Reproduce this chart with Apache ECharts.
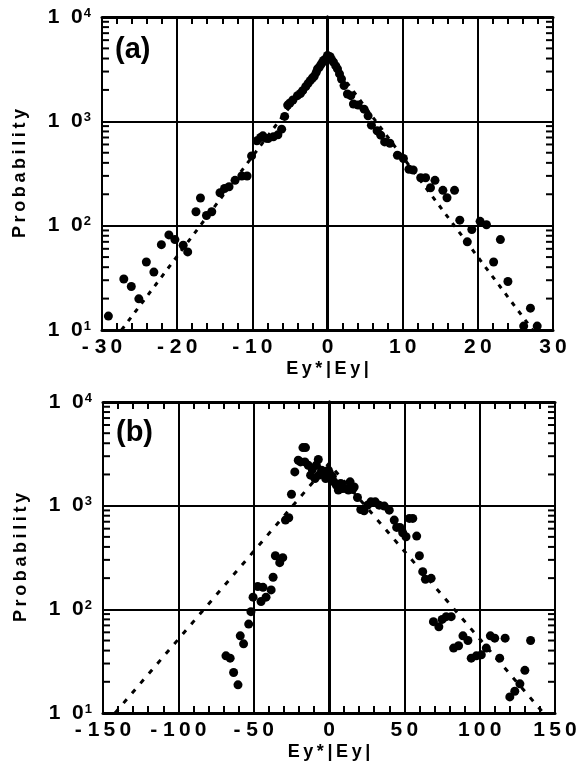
<!DOCTYPE html>
<html><head><meta charset="utf-8">
<script src="https://cdn.jsdelivr.net/npm/echarts@6/dist/echarts.min.js"></script>
<style>html,body{margin:0;padding:0;background:#fff}#c{width:582px;height:778px}</style>
</head><body><div id="c"></div>
<script>
// ---- Panel (a) data ----
const aX = [-29.15,-27.1,-26.1,-25.1,-24.1,-23.1,-22.1,-21.1,-20.3,-19.2,-18.6,-17.5,-16.9,-16.1,-15.4,-14.3,-13.7,-13.1,-12.3,-11.4,-10.7,-10.1,-9.4,-8.9,-8.6,-8.2,-7.9,-7.2,-6.6,-6.1,-5.7,-5.3,-5.0,-4.6,-4.0,-3.6,-3.3,-2.9,-2.6,-2.3,-2.0,-1.77,-1.5,-1.33,-1.1,-0.88,-0.7,-0.53,-0.3,0,0.15,0.35,0.55,0.8,1.1,1.33,1.6,1.86,2.2,2.65,3.1,3.45,4.07,4.87,5.4,5.84,6.6,7.08,7.6,8.3,9.3,10.1,10.84,11.4,12.4,13.05,13.7,14.3,15.35,15.9,16.9,17.6,18.6,19.2,20.3,21.15,22.1,23.0,24.0,26.1,27.0,27.9];
const aP = [13.6,30.8,26.1,19.9,44.8,35.9,65.8,81.5,73.5,64.9,56,136,184,125,136,207,227,236,272,299,299,466,650,700,726,690,685,710,742,841,1115,1432,1500,1600,1762,1850,1969,2149,2300,2455,2600,2704,2950,3178,3300,3500,3650,3826,3950,4274,4100,4170,3900,3690,3400,3178,2850,2548,2200,1828,1762,1465,1432,1309,1129,919,811,737,635,617,473,440,347,342,288,288,231,272,218,185,218,113,70,92,110,102,44.8,73.5,29.2,10.9,16.2,10.9];
const fitAX = [-27.4, 0, 27.3];
const fitAP = [10, 4150, 10];

// ---- Panel (b) data ----
const bX = [-68.4,-65.6,-63.3,-60.4,-58.9,-56.7,-53.3,-51.8,-50.4,-47.3,-45.1,-43.8,-41.8,-38.4,-37.1,-35.6,-32.7,-30.7,-28.9,-26.7,-24.9,-22.7,-20.4,-18.9,-17.3,-16.0,-15.6,-13.8,-12.2,-11.1,-9.3,-8.4,-7.1,-6.7,-4.9,-3.3,-2.2,-0.4,0.4,1.1,2.2,3.3,4.9,6.2,7.8,8.9,11.1,12.9,14,15.6,16.7,18.9,21.1,23.3,25.6,27.8,30.7,33.3,36.7,40,43.3,44.9,47.1,48.9,51.1,53.3,55.6,58.2,60,62.2,64,67.8,69.3,72.9,75.1,77.8,81.1,82.7,86,88.9,92.2,94.4,97.8,101.1,104.4,107.1,110,113.3,116.9,120,123.3,126.7,130,133.8];
const bP = [35.6,33.8,24.6,18.7,55.5,46.5,72,95,131,166,119,163,131,154,204,329,282,315,726,764,1290,2118,2742,2644,3631,2644,3631,2455,1969,2230,1828,2455,2786,1969,2199,2042,1828,2199,2042,1828,1923,1698,1578,1413,1637,1466,1466,1413,1698,1436,1515,1200,919,892,1012,1089,1089,1012,990,905,726,617,617,548,501,753,753,509,329,231,195,199,76,68,80,85,85,42.3,44.5,55.5,50,33.8,35.6,36.4,42.3,55.5,52.7,33.8,52.7,14.3,16.2,19.1,25.8,50];
const fitBX = [-142, 0, 142.3];
const fitBP = [10, 2550, 10];

// ---- Axis ticks ----
const xTicksA = [-30, -20, -10, 0, 10, 20, 30];
const xTicksB = [-150, -100, -50, 0, 50, 100, 150];
const yExponents = [1, 2, 3, 4];
const yMinor = [];
for (let k = 1; k <= 3; k++) for (let m = 2; m <= 9; m++) yMinor.push(m * Math.pow(10, k));

const F = '"Liberation Sans", Arial, Helvetica, sans-serif';
const TH = '\u2009';
const pairs = (xs, ys) => xs.map((x, i) => [x, ys[i]]);
const spaced = v => {
  const s = String(Math.abs(v)).split('').join(TH);
  return v < 0 ? '- ' + s : s;
};

function xAxes(gridIndex, ticks) {
  const min = ticks[0], max = ticks[ticks.length - 1], interval = ticks[1] - ticks[0];
  const common = {
    type: 'value', gridIndex, min, max, interval,
    axisLine: { show: true, onZero: false, lineStyle: { color: '#000', width: 3 } },
    axisTick: { show: true, inside: true, length: 7, lineStyle: { color: '#000', width: 2 } },
    minorTick: { show: true, splitNumber: 5, length: 7, lineStyle: { color: '#000', width: 2 } },
  };
  return [
    Object.assign({}, common, {
      position: 'bottom',
      splitLine: { show: true, lineStyle: { color: '#000', width: 2 } },
      axisLabel: { formatter: spaced, fontSize: 21, fontWeight: 'bold', color: '#000', fontFamily: F, margin: 7 },
      name: ['E', 'y', '*', '|', 'E', 'y', '|'].join(TH), nameLocation: 'middle', nameGap: 30,
      nameTextStyle: { fontSize: 18, fontWeight: 'bold', color: '#000', fontFamily: F }
    }),
    Object.assign({}, common, {
      position: 'top', axisLabel: { show: false }, splitLine: { show: false }
    })
  ];
}

function yAxes(gridIndex) {
  const common = {
    type: 'log', logBase: 10, gridIndex, min: 10, max: 10000,
    axisLine: { show: true, lineStyle: { color: '#000', width: 3 } },
    axisTick: { show: false }
  };
  return [
    Object.assign({}, common, {
      position: 'left',
      splitLine: { show: true, lineStyle: { color: '#000', width: 2 } },
      axisLabel: {
        margin: 11,
        formatter: v => {
          const e = Math.round(Math.log10(v));
          return yExponents.indexOf(e) >= 0 ? '{n|1  0}{s|' + e + '}' : '';
        },
        rich: {
          n: { fontSize: 21, fontWeight: 'bold', color: '#000', fontFamily: F },
          s: { fontSize: 13, fontWeight: 'bold', color: '#000', fontFamily: F, verticalAlign: 'top', padding: [0, 0, 0, 1] }
        }
      },
      name: 'Probability'.split('').join(TH), nameLocation: 'middle', nameGap: 73, nameRotate: 90,
      nameTextStyle: { fontSize: 18, fontWeight: 'bold', color: '#000', fontFamily: F }
    }),
    Object.assign({}, common, {
      position: 'right', axisLabel: { show: false }, splitLine: { show: false }
    })
  ];
}

function minorRender(params, api) {
  const cs = params.coordSys;
  const py = api.coord([api.value(0), api.value(1)])[1];
  const st = { stroke: '#000', lineWidth: 2 };
  return { type: 'group', children: [
    { type: 'line', shape: { x1: cs.x, y1: py, x2: cs.x + 7, y2: py }, style: st },
    { type: 'line', shape: { x1: cs.x + cs.width, y1: py, x2: cs.x + cs.width - 7, y2: py }, style: st }
  ]};
}

const chart = echarts.init(document.getElementById('c'), null, { renderer: 'canvas' });
chart.setOption({
  backgroundColor: '#fff',
  animation: false,
  grid: [
    { left: 102, top: 17, width: 451, height: 313 },
    { left: 103, top: 402, width: 452, height: 311 }
  ],
  xAxis: [...xAxes(0, xTicksA), ...xAxes(1, xTicksB)],
  yAxis: [...yAxes(0), ...yAxes(1)],
  graphic: [
    { type: 'text', left: 115, top: 35, style: { text: '(a)', font: 'bold 29px ' + F, fill: '#000' } },
    { type: 'text', left: 116, top: 418, style: { text: '(b)', font: 'bold 29px ' + F, fill: '#000' } }
  ],
  series: [
    { type: 'custom', xAxisIndex: 0, yAxisIndex: 0, data: yMinor.map(v => [0, v]), renderItem: minorRender, silent: true, z: 1 },
    { type: 'custom', xAxisIndex: 2, yAxisIndex: 2, data: yMinor.map(v => [0, v]), renderItem: minorRender, silent: true, z: 1 },
    { type: 'line', xAxisIndex: 0, yAxisIndex: 0, data: pairs(fitAX, fitAP), showSymbol: false, symbol: 'none',
      lineStyle: { color: '#000', width: 3, type: [4.5, 6.5] }, z: 2 },
    { type: 'line', xAxisIndex: 2, yAxisIndex: 2, data: pairs(fitBX, fitBP), showSymbol: false, symbol: 'none',
      lineStyle: { color: '#000', width: 3, type: [5, 8] }, z: 2 },
    { type: 'scatter', xAxisIndex: 0, yAxisIndex: 0, data: pairs(aX, aP), symbol: 'circle', symbolSize: 9,
      itemStyle: { color: '#000', opacity: 1 }, z: 3 },
    { type: 'scatter', xAxisIndex: 2, yAxisIndex: 2, data: pairs(bX, bP), symbol: 'circle', symbolSize: 9,
      itemStyle: { color: '#000', opacity: 1 }, z: 3 }
  ]
});
</script>
</body></html>
